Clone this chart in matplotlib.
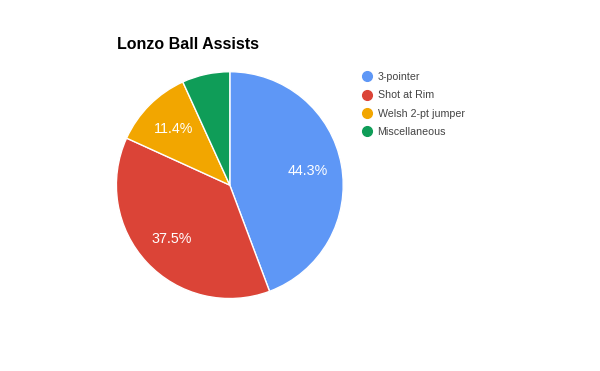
import matplotlib.pyplot as plt
from matplotlib.lines import Line2D

plt.rcParams['font.family'] = ['Liberation Sans', 'DejaVu Sans']

labels = ['3-pointer', 'Shot at Rim', 'Welsh 2-pt jumper', 'Miscellaneous']
shares = [44.3, 37.5, 11.4, 6.8]
colors = ['#5e97f6', '#db4437', '#f2a600', '#0f9d58']

fig = plt.figure(figsize=(6, 3.71), dpi=100)
ax = fig.add_axes([0.194, 0.195, 0.378, 0.612])

def fmt(p):
    return '%.1f%%' % p if p > 10 else ''

wedges, texts, autotexts = ax.pie(shares, colors=colors, startangle=90, counterclock=False,
                                  autopct=fmt, pctdistance=0.70,
                                  wedgeprops=dict(edgecolor='white', linewidth=1))
for t in autotexts:
    t.set_color('white')
    t.set_fontsize(10.3)
ax.set_xlim(-1, 1)
ax.set_ylim(-1, 1)
ax.set_aspect('equal')

fig.text(117/600, 1 - 49/371, 'Lonzo Ball Assists', fontsize=11.5, fontweight='bold', color='#000000')

handles = [Line2D([], [], marker='o', linestyle='', markersize=7, markerfacecolor=c, markeredgecolor=c)
           for c in colors]
fig.legend(handles, labels, loc='upper left', bbox_to_anchor=(361/600, 1 - 72/371),
           frameon=False, fontsize=7.7, labelcolor='#444444', handletextpad=0.35,
           labelspacing=0.78, handlelength=1.2, borderaxespad=0, borderpad=0)

fig.savefig('out.png', dpi=100)
